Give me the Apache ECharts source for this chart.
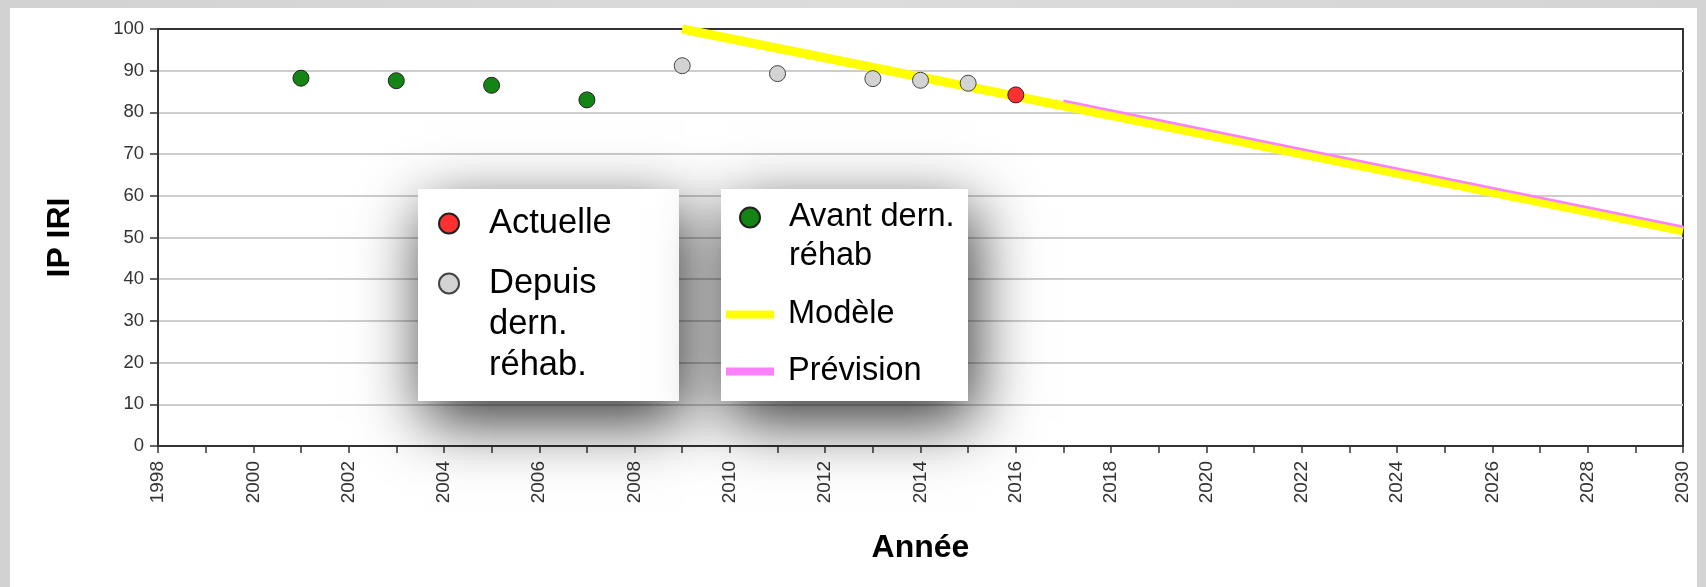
<!DOCTYPE html>
<html>
<head>
<meta charset="utf-8">
<script src="https://cdn.jsdelivr.net/npm/echarts@6/dist/echarts.min.js"></script>
<style>
  html, body { margin: 0; padding: 0; width: 1706px; height: 587px; overflow: hidden;
    background: linear-gradient(90deg, #d2d2d2, #dcdcdc 50%, #d4d4d4); }
  #panel { position: absolute; left: 10px; top: 8px; width: 1687px; height: 579px; background: #fff; }
  #chart { position: absolute; left: 0; top: 0; width: 1706px; height: 587px; }
</style>
</head>
<body>
<div id="panel"></div>
<div id="chart"></div>
<script>
// valeurs
var avantYears = [2001, 2003, 2005, 2007];
var avantValues = [88.2, 87.6, 86.5, 83.0];
var depuisYears = [2009, 2011, 2013, 2014, 2015];
var depuisValues = [91.2, 89.3, 88.1, 87.7, 87.0];
var actuelleYears = [2016];
var actuelleValues = [84.2];
var modeleYears = [2009, 2030];
var modeleValues = [100, 51.6];
var previsionYears = [2017, 2030];
var previsionValues = [82.8, 52.6];

var xMin = 1998, xMax = 2030;
var yMin = 0, yMax = 100;

function pairs(xs, ys) {
    var out = [];
    for (var i = 0; i < xs.length; i++) {
        out.push([xs[i], ys[i]]);
    }
    return out;
}

var NAME_AVANT = 'Avant dern. réhab';
var NAME_DEPUIS = 'Depuis dern. réhab.';
var NAME_ACTUELLE = 'Actuelle';
var NAME_MODELE = 'Modèle';
var NAME_PREVISION = 'Prévision';

var legendText = {};
legendText[NAME_AVANT] = 'Avant dern.\nréhab';
legendText[NAME_DEPUIS] = 'Depuis\ndern.\nréhab.';
legendText[NAME_ACTUELLE] = 'Actuelle';
legendText[NAME_MODELE] = 'Modèle';
legendText[NAME_PREVISION] = 'Prévision';

var font = '"Liberation Sans", Arial, sans-serif';

// one legend per item; the text block is centred on the icon, so blank lines
// are put in front to keep the first real line level with the icon
function legendItem(name, left, iconY, size, lh, isLine, padLeft) {
    var lines = legendText[name].split('\n');
    var pad = '';
    for (var i = 1; i < lines.length; i++) pad += '\n';
    var total = lines.length * 2 - 1;
    return {
        data: [name],
        left: left,
        top: Math.round(iconY - total * lh / 2),
        orient: 'vertical',
        padding: 0,
        icon: isLine ? 'rect' : 'circle',
        itemWidth: isLine ? 48 : 20,
        itemHeight: isLine ? 8 : 20,
        selectedMode: false,
        formatter: function (n) { return pad + legendText[n]; },
        textStyle: {
            fontFamily: font,
            fontSize: size,
            color: '#000',
            lineHeight: lh,
            padding: [0, 0, 0, padLeft]
        }
    };
}

function legendBox(x, y, w, h) {
    return {
        type: 'rect', z: 3, silent: true,
        shape: { x: x, y: y, width: w, height: h },
        style: { fill: '#fff', shadowBlur: 60, shadowColor: 'rgba(0,0,0,0.8)', shadowOffsetX: 6, shadowOffsetY: 20 }
    };
}

var chart = echarts.init(document.getElementById('chart'));

var option = {
    backgroundColor: 'transparent',
    animation: false,
    grid: {
        left: 158,
        top: 29,
        right: 23,
        bottom: 141,
        show: true,
        borderColor: '#333',
        borderWidth: 2,
        backgroundColor: 'transparent'
    },
    xAxis: {
        type: 'value',
        min: xMin,
        max: xMax,
        interval: 1,
        name: 'Année',
        nameLocation: 'middle',
        nameGap: 86,
        nameTextStyle: { fontFamily: font, fontSize: 32, fontWeight: 'bold', color: '#000' },
        axisLine: { lineStyle: { color: '#333', width: 2 } },
        axisTick: { length: 7, lineStyle: { color: '#333', width: 1.5 } },
        axisLabel: {
            rotate: 90,
            margin: 15,
            fontFamily: font,
            fontSize: 19,
            color: '#333',
            formatter: function (v) { return v % 2 === 0 ? String(v) : ''; }
        },
        splitLine: { show: false }
    },
    yAxis: {
        type: 'value',
        min: yMin,
        max: yMax,
        interval: 10,
        name: 'IP IRI',
        nameLocation: 'middle',
        nameGap: 82,
        nameTextStyle: { fontFamily: font, fontSize: 32, fontWeight: 'bold', color: '#000' },
        axisLine: { show: true, lineStyle: { color: '#333', width: 2 } },
        axisTick: { show: true, length: 8, lineStyle: { color: '#333', width: 1.5 } },
        axisLabel: { margin: 14, fontFamily: font, fontSize: 18.5, color: '#333' },
        splitLine: { showMinLine: false, showMaxLine: false, lineStyle: { color: '#cdcdcd', width: 2 } }
    },
    legend: [
        legendItem(NAME_ACTUELLE, 438, 223, 34.5, 41, false, 25),
        legendItem(NAME_DEPUIS, 438, 283, 34.5, 41, false, 25),
        legendItem(NAME_AVANT, 739, 217, 32.5, 39, false, 24),
        legendItem(NAME_MODELE, 726, 314, 32.5, 39, true, 9),
        legendItem(NAME_PREVISION, 726, 371, 32.5, 39, true, 9)
    ],
    graphic: [
        legendBox(418, 189, 261, 212),
        legendBox(721, 189, 247, 212)
    ],
    series: [
        {
            name: NAME_MODELE,
            type: 'line',
            data: pairs(modeleYears, modeleValues),
            symbol: 'none',
            color: '#ffff00',
            lineStyle: { color: '#ffff00', width: 9 },
            z: 2
        },
        {
            name: NAME_PREVISION,
            type: 'line',
            data: pairs(previsionYears, previsionValues),
            symbol: 'none',
            color: '#ff80ff',
            lineStyle: { color: '#ff80ff', width: 2.5 },
            z: 2
        },
        {
            name: NAME_AVANT,
            type: 'scatter',
            data: pairs(avantYears, avantValues),
            symbolSize: 16,
            itemStyle: { color: '#148414', borderColor: '#222', borderWidth: 1, opacity: 1 },
            z: 3
        },
        {
            name: NAME_DEPUIS,
            type: 'scatter',
            data: pairs(depuisYears, depuisValues),
            symbolSize: 16,
            itemStyle: { color: '#d3d3d3', borderColor: '#444', borderWidth: 1, opacity: 1 },
            z: 3
        },
        {
            name: NAME_ACTUELLE,
            type: 'scatter',
            data: pairs(actuelleYears, actuelleValues),
            symbolSize: 16,
            itemStyle: { color: '#ff3030', borderColor: '#222', borderWidth: 1, opacity: 1 },
            z: 3
        }
    ]
};

chart.setOption(option);
</script>
</body>
</html>
